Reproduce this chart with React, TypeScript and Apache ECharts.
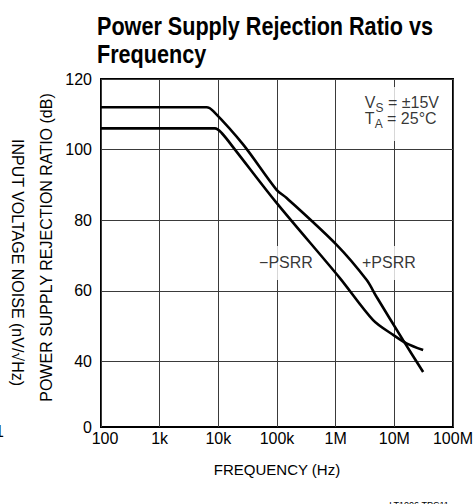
import React, { useEffect, useRef } from "react";
import * as echarts from "echarts";

// ---- data ----
const frequencyTicks = [100, 1e3, 1e4, 1e5, 1e6, 1e7, 1e8];
const frequencyTickLabels = ["100", "1k", "10k", "100k", "1M", "10M", "100M"];
const dbAxisMin = 21.4; // bottom of the (broken) axis, labelled "0"
const dbAxisMax = 120;
const dbTicks = [40, 60, 80, 100, 120];
const dbLabelTicks = [21.4, 40, 60, 80, 100, 120];
const dbTickLabels = ["0", "40", "60", "80", "100", "120"];

const plusPsrrFreq = [100, 6300, 8200, 26600, 98400, 146000, 1040000, 3360000, 4970000, 14100000, 31000000];
const plusPsrrDb = [112, 112, 110.9, 101.4, 88.6, 86.3, 73, 63.1, 58.3, 46, 37];

const minusPsrrFreq = [100, 8750, 11400, 19200, 98400, 1180000, 4350000, 9550000, 16100000, 31000000];
const minusPsrrDb = [106, 106, 104.7, 100, 84.9, 63.6, 51.7, 47.5, 45.1, 43.2];

const curveLabels = ["\u2212PSRR", "+PSRR"];
const curveLabelFreq = [142000, 8060000];
const curveLabelDb = [67.9, 67.9];

const conditionFreq = 2690000;
const conditionDb = 110.1;

const FONT = '"Liberation Sans", Arial, Helvetica, sans-serif';

export default function App() {
  const ref = useRef<HTMLDivElement>(null);
  useEffect(() => {
    document.body.style.margin = "0";
    if (!ref.current) return;
    const chart = echarts.init(ref.current, undefined, { renderer: "svg" });
    const option: any = {
      animation: false,
      backgroundColor: "#fff",
      textStyle: { fontFamily: FONT, color: "#000" },
      grid: {
        left: 101,
        right: 22.5,
        top: 79,
        bottom: 77,
        show: true,
        borderColor: "#000",
        borderWidth: 2,
        backgroundColor: "transparent",
      },
      xAxis: {
        type: "log",
        logBase: 10,
        min: frequencyTicks[0],
        max: frequencyTicks[frequencyTicks.length - 1],
        axisLine: { show: false },
        axisTick: { show: false },
        axisLabel: {
          color: "#000",
          fontSize: 16,
          fontFamily: FONT,
          margin: 3,
          formatter: (v: number) => {
            const i = Math.round(Math.log10(v)) - 2;
            const t = frequencyTickLabels[i] ?? "";
            return i === 0 ? `{first|${t}}` : t;
          },
          rich: {
            first: { fontSize: 16, fontFamily: FONT, color: "#000", padding: [0, 0, 0, 8] },
          },
        },
        splitLine: { show: true, lineStyle: { color: "#3a3a3a", width: 1 } },
      },
      yAxis: {
        type: "value",
        min: dbAxisMin,
        max: dbAxisMax,
        axisLine: { show: false },
        axisTick: { show: false, customValues: dbTicks },
        axisLabel: {
          color: "#000",
          fontSize: 16,
          fontFamily: FONT,
          margin: 9,
          customValues: dbLabelTicks,
          formatter: (v: number) => {
            const i = dbLabelTicks.findIndex((t) => Math.abs(t - v) < 0.01);
            return i >= 0 ? dbTickLabels[i] : "";
          },
        },
        splitLine: { show: true, lineStyle: { color: "#3a3a3a", width: 1 } },
      },
      graphic: [
        {
          type: "text",
          x: 97,
          y: 12,
          scaleX: 0.864,
          style: {
            text: "Power Supply Rejection Ratio vs\nFrequency",
            font: `bold 25px ${FONT}`,
            lineHeight: 28,
            fill: "#000",
            verticalAlign: "top",
            textVerticalAlign: "top",
          },
        },
        {
          type: "text",
          x: 277,
          y: 469,
          style: {
            text: "FREQUENCY (Hz)",
            font: `15px ${FONT}`,
            fill: "#000",
            align: "center",
            textAlign: "center",
            verticalAlign: "middle",
            textVerticalAlign: "middle",
          },
        },
        {
          type: "text",
          x: 46,
          y: 247.5,
          rotation: Math.PI / 2,
          style: {
            text: "POWER SUPPLY REJECTION RATIO (dB)",
            font: `16px ${FONT}`,
            fill: "#000",
            align: "center",
            textAlign: "center",
            verticalAlign: "middle",
            textVerticalAlign: "middle",
          },
        },
        {
          type: "text",
          x: 17.5,
          y: 262.5,
          rotation: -Math.PI / 2,
          style: {
            text: "INPUT VOLTAGE NOISE (nV/\u221AHz)",
            font: `16px ${FONT}`,
            fill: "#000",
            align: "center",
            textAlign: "center",
            verticalAlign: "middle",
            textVerticalAlign: "middle",
          },
        },
        {
          type: "text",
          x: 4,
          y: 431,
          style: {
            text: "1",
            font: `16px ${FONT}`,
            fill: "#000",
            align: "right",
            textAlign: "right",
            verticalAlign: "middle",
            textVerticalAlign: "middle",
          },
        },
        {
          type: "text",
          x: 419,
          y: 500,
          style: {
            text: "LT1006 TPC11",
            font: `9px ${FONT}`,
            fill: "#000",
            align: "center",
            textAlign: "center",
            verticalAlign: "top",
            textVerticalAlign: "top",
          },
        },
      ],
      series: [
        {
          name: "+PSRR",
          type: "line",
          data: plusPsrrFreq.map((f, i) => [f, plusPsrrDb[i]]),
          symbol: "none",
          smooth: 0.3,
          lineStyle: { color: "#000", width: 2.6 },
          z: 5,
          silent: true,
        },
        {
          name: "-PSRR",
          type: "line",
          data: minusPsrrFreq.map((f, i) => [f, minusPsrrDb[i]]),
          symbol: "none",
          smooth: 0.3,
          lineStyle: { color: "#000", width: 2.6 },
          z: 5,
          silent: true,
        },
        {
          type: "scatter",
          symbolSize: 0,
          z: 3,
          silent: true,
          data: curveLabelFreq.map((f, i) => ({
            value: [f, curveLabelDb[i]],
            label: { formatter: curveLabels[i] },
          })),
          label: {
            show: true,
            position: "inside",
            color: "#000",
            fontSize: 16,
            fontFamily: FONT,
            backgroundColor: "#fff",
            padding: [9, 2],
          },
        },
        {
          type: "scatter",
          symbolSize: 0,
          z: 3,
          silent: true,
          data: [[conditionFreq, conditionDb]],
          label: {
            show: true,
            position: "inside",
            align: "left",
            verticalAlign: "middle",
            backgroundColor: "#fff",
            padding: [8, 4, 14, 4],
            formatter: "{v|V}{s|S}{v| = \u00B115V}\n{v|T}{s|A}{v| = 25\u00B0C}",
            rich: {
              v: { fontSize: 16, fontFamily: FONT, color: "#000", lineHeight: 16, verticalAlign: "top" },
              s: { fontSize: 12, fontFamily: FONT, color: "#000", lineHeight: 16, verticalAlign: "top", padding: [7, 0, 0, 0] },
            },
          },
        },
      ],
    };
    chart.setOption(option);
    return () => chart.dispose();
  }, []);
  return <div ref={ref} style={{ width: 476, height: 504 }} />;
}
